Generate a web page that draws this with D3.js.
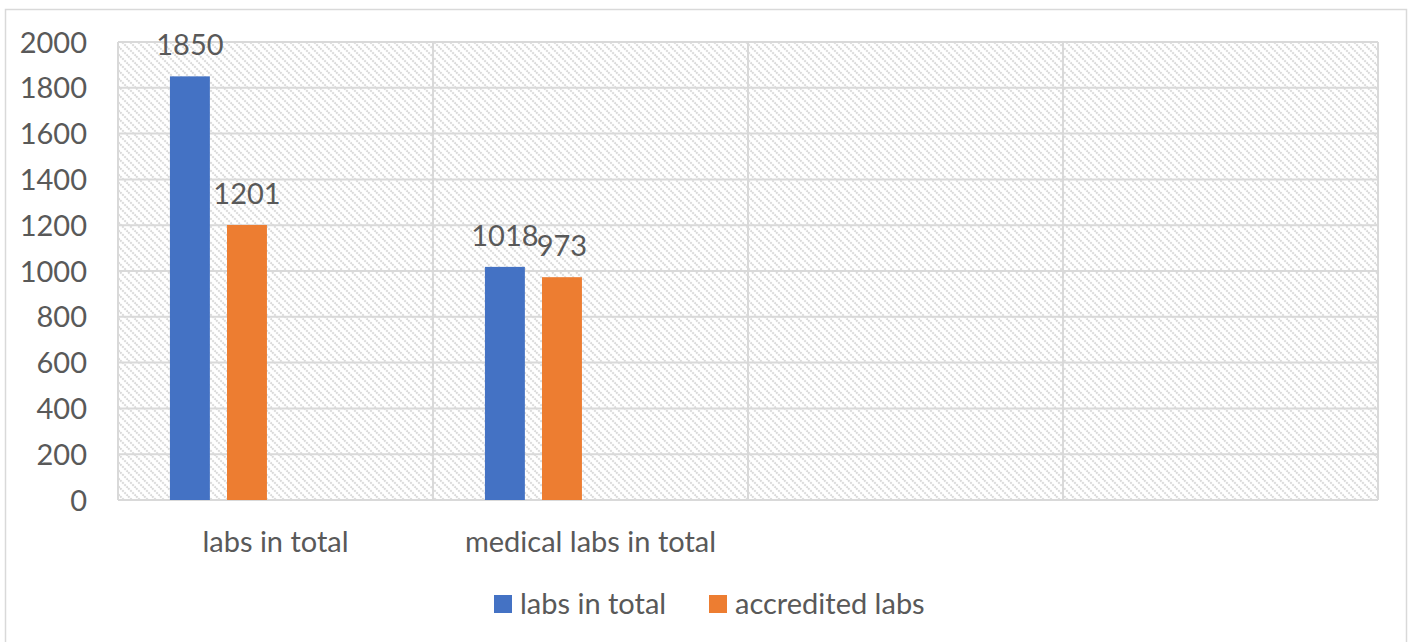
<!DOCTYPE html>
<html><head><meta charset="utf-8">
<script src="https://cdn.jsdelivr.net/npm/d3@7"></script>
<style>body{margin:0;background:#fff}svg{display:block}</style>
</head><body>
<script>
const categories = ["labs in total", "medical labs in total", "", ""];
const seriesNames = ["labs in total", "accredited labs"];
const labsInTotal = [1850, 1018, null, null];
const accreditedLabs = [1201, 973, null, null];
const yTicks = [0, 200, 400, 600, 800, 1000, 1200, 1400, 1600, 1800, 2000];
const colors = ["#4472C4", "#ED7D31"];
const slots = ["s0", "s1", "s2", "s3"];

const W = 1410, H = 642;
const svg = d3.select("body").append("svg").attr("width", W).attr("height", H);
const font = "Lato, 'Open Sans', sans-serif";
const fs = 29;
const txt = "#595959";

svg.append("rect").attr("x", 5.5).attr("y", 9.5).attr("width", 1401).attr("height", 660)
  .attr("fill", "#fff").attr("stroke", "#D9D9D9").attr("stroke-width", 1.5);

const defs = svg.append("defs");
const pat = defs.append("pattern").attr("id", "hatch").attr("patternUnits", "userSpaceOnUse")
  .attr("width", 8).attr("height", 8);
pat.append("rect").attr("width", 8).attr("height", 8).attr("fill", "#fff");
pat.append("path").attr("d", "M-2,-2 L10,10 M-2,6 L2,10 M6,-2 L10,2")
  .attr("stroke", "#D9D9D9").attr("stroke-width", 2).attr("stroke-dasharray", "2,1");

const L = 118, R = 1378, T = 42, B = 500;
const x = d3.scaleBand().domain(d3.range(categories.length)).range([L, R]);
const x1 = d3.scaleBand().domain(slots).range([0, x.bandwidth()]).paddingInner(0.3).paddingOuter(0.91);
const y = d3.scaleLinear().domain([0, 2000]).range([B, T]);

svg.append("rect").attr("x", L).attr("y", T).attr("width", R - L).attr("height", B - T).attr("fill", "url(#hatch)");

svg.append("g").selectAll("line").data(yTicks).join("line")
  .attr("x1", L).attr("x2", R).attr("y1", d => y(d)).attr("y2", d => y(d))
  .attr("stroke", "#D9D9D9").attr("stroke-width", 2);
svg.append("g").selectAll("line").data(d3.range(categories.length + 1)).join("line")
  .attr("x1", i => i < categories.length ? x(i) : R).attr("x2", i => i < categories.length ? x(i) : R)
  .attr("y1", T).attr("y2", B)
  .attr("stroke", "#D9D9D9").attr("stroke-width", 2);

const yAxis = d3.axisLeft(y).tickValues(yTicks).tickFormat(d3.format("d")).tickSize(0).tickPadding(0);
const gy = svg.append("g").attr("transform", `translate(${87},0)`).call(yAxis);
gy.select(".domain").remove();
gy.selectAll("text").attr("font-family", font).attr("font-size", fs).attr("fill", txt).attr("dy", "0.35em");

const xAxis = d3.axisBottom(x).tickFormat(i => categories[i]).tickSize(0).tickPadding(0);
const gx = svg.append("g").attr("transform", `translate(0,${B + 42})`).call(xAxis);
gx.select(".domain").remove();
gx.selectAll("text").attr("font-family", font).attr("font-size", fs).attr("fill", txt).attr("dy", "0.35em");

const series = [labsInTotal, accreditedLabs];
series.forEach((vals, s) => {
  const g = svg.append("g");
  const data = vals.map((v, i) => ({v, i})).filter(d => d.v != null);
  g.selectAll("rect").data(data).join("rect")
    .attr("x", d => x(d.i) + x1(slots[s])).attr("width", x1.bandwidth())
    .attr("y", d => y(d.v)).attr("height", d => B - y(d.v)).attr("fill", colors[s]);
  g.selectAll("text").data(data).join("text")
    .attr("x", d => x(d.i) + x1(slots[s]) + x1.bandwidth() / 2).attr("y", d => y(d.v) - 21)
    .attr("text-anchor", "middle").attr("font-family", font).attr("font-size", fs).attr("fill", txt)
    .text(d => d.v);
});

const leg = svg.append("g");
const legX = [494, 709];
seriesNames.forEach((n, s) => {
  leg.append("rect").attr("x", legX[s]).attr("y", 595).attr("width", 18).attr("height", 18).attr("fill", colors[s]);
  leg.append("text").attr("x", legX[s] + 26).attr("y", 604).attr("dy", "0.35em")
    .attr("font-family", font).attr("font-size", fs).attr("fill", txt).text(n);
});
</script>
</body></html>
